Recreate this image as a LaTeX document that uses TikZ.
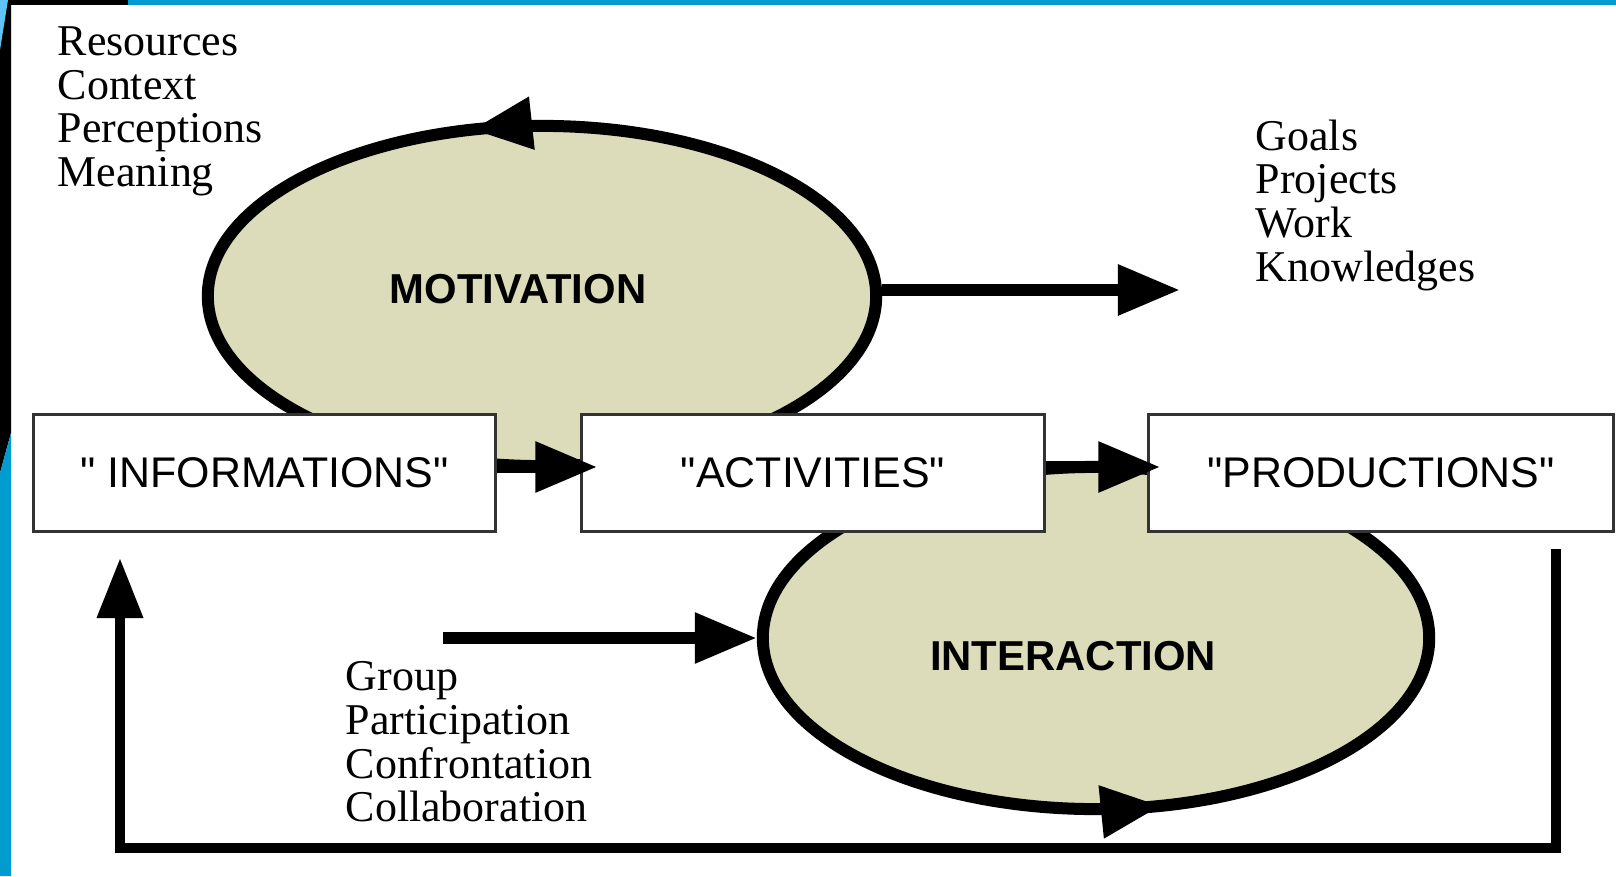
\documentclass[tikz,border=0pt]{standalone}
\usepackage{fontspec}
\setmainfont{Liberation Serif}
\newfontfamily\labelfont{Liberation Sans}
\usetikzlibrary{arrows.meta,shapes.geometric,decorations.markings}

\definecolor{blobfill}{RGB}{220,220,186}
\definecolor{framebl}{RGB}{0,155,207}
\definecolor{framelt}{RGB}{95,195,245}

\tikzset{
  box/.style={draw=black!80, line width=0.03cm, fill=white, minimum width=4.62cm,
    minimum height=1.16cm, inner sep=0pt, font=\labelfont\fontsize{12.2}{14}\selectfont},
  blob/.style={ellipse, draw=black, line width=0.12cm, fill=blobfill, inner sep=0pt},
  blobtext/.style={font=\labelfont\bfseries\fontsize{11.9}{14}\selectfont},
  side/.style={align=left, anchor=north west, inner sep=0pt,
    font=\fontsize{12.5}{12.4}\selectfont},
  bigarrow/.style={line width=0.12cm, -{Triangle[length=0.62cm,width=0.48cm]}},
  looptip/.style={postaction={decorate, decoration={markings,
    mark=at position #1 with {\arrow{Triangle[length=0.6cm,width=0.5cm]}}}}},
}

\begin{document}
\begin{tikzpicture}[x=0.01cm, y=-0.01cm]
    \useasboundingbox (0,0) rectangle (1616,876);

    % frame
    \fill[framebl] (128,0) rectangle (1616,5);
    \fill[black] (0,0) rectangle (128,5);
    \fill[black] (0,0) -- (11,0) -- (11,433) -- (0,473) -- cycle;
    \fill[framebl] (0,473) -- (11,433) -- (11,876) -- (0,876) -- cycle;
    \fill[framelt] (0,0) -- (8,0) -- (0,50) -- cycle;

    % the two loops
    \node[blob, looptip=0.293, minimum width=6.68cm, minimum height=3.40cm] (mot) at (542,296) {};
    \node[blobtext] (motlbl) at (518,289) {MOTIVATION};
    \node[blob, looptip=0.79, minimum width=6.66cm, minimum height=3.42cm] (inter) at (1096,638) {};
    \node[blobtext] (interlbl) at (1073,656) {INTERACTION};

    % boxes
    \node[box, minimum width=4.61cm] (info) at (264.5,473) {" INFORMATIONS"};
    \node[box] (act) at (813,473) {"ACTIVITIES"};
    \node[box, minimum width=4.64cm] (prod) at (1381,473) {"PRODUCTIONS"};

    \draw[bigarrow, shorten >=-0.17cm] ([yshift=0.06cm]info.east) -- ([yshift=0.06cm]act.west); % info-act
    \draw[bigarrow, shorten >=-0.13cm] ([yshift=0.06cm]act.east) -- ([yshift=0.06cm]prod.west); % act-prod

    % side texts
    \node[side] (inputs) at (57,26) {Resources\\Context\\Perceptions\\Meaning};
    \node[side] (outputs) at (1255,119) {Goals\\Projects\\Work\\Knowledges};
    \node[side] (social) at (345,661) {Group\\Participation\\Confrontation\\Collaboration};

    \coordinate (goalsin) at (1180,290);
    \coordinate (grp) at (443,638);
    \draw[bigarrow] (mot.east |- goalsin) -- (goalsin); % mot-goals
    \draw[bigarrow] (grp) -- (inter.west); % group-inter

    % feedback
    \coordinate (fbstart) at (1556,549);
    \coordinate (fbcorner) at (120,848);
    \coordinate (fbend) at (120,558);
    \draw[line width=0.1cm, -{Triangle[length=0.6cm,width=0.44cm]}] (fbstart) |- (fbcorner) -- (fbend);
\end{tikzpicture}
\end{document}
